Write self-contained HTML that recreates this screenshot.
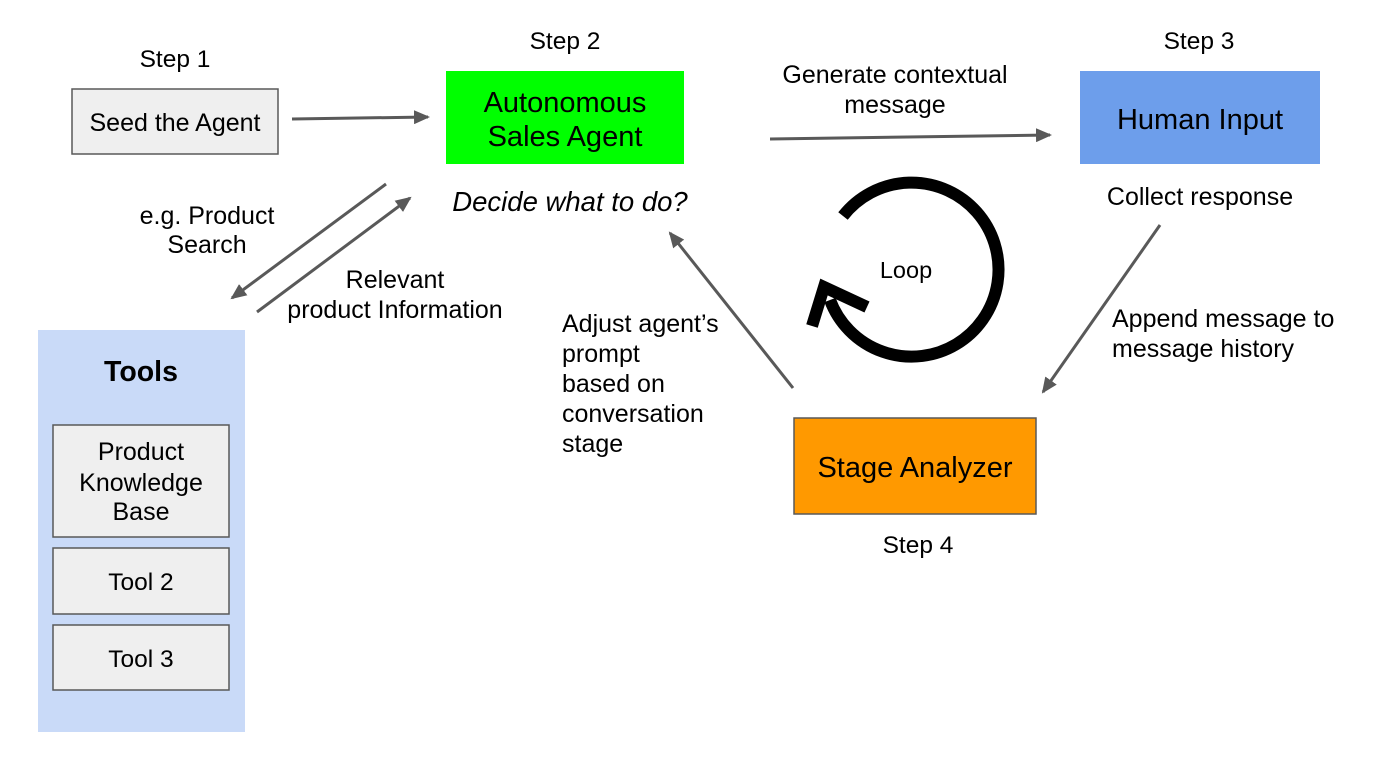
<!DOCTYPE html>
<html><head><meta charset="utf-8"><style>
html,body{margin:0;padding:0;background:#fff;}
svg{display:block;font-family:"Liberation Sans",Arial,sans-serif;}
</style></head><body>
<svg width="1400" height="757" viewBox="0 0 1400 757" xmlns="http://www.w3.org/2000/svg">
<defs>
<marker id="ah2" markerWidth="16" markerHeight="14" refX="14" refY="7" orient="auto" markerUnits="userSpaceOnUse">
<path d="M0,0 L16,7 L0,14 z" fill="#595959"/>
</marker>
</defs>
<g font-size="24.5" fill="#000">
<text x="175" y="67" text-anchor="middle">Step 1</text>
<text x="565" y="49" text-anchor="middle">Step 2</text>
<text x="1199" y="49" text-anchor="middle">Step 3</text>
<text x="918" y="553" text-anchor="middle">Step 4</text>
</g>
<rect x="72" y="89" width="206" height="65" fill="#efefef" stroke="#595959" stroke-width="1.5"/>
<text x="175" y="131" font-size="25" text-anchor="middle">Seed the Agent</text>
<rect x="446" y="71" width="238" height="93" fill="#00ff00"/>
<text x="565" y="112" font-size="29" text-anchor="middle">Autonomous</text>
<text x="565" y="146" font-size="29" text-anchor="middle">Sales Agent</text>
<text x="570" y="211" font-size="27.5" font-style="italic" text-anchor="middle">Decide what to do?</text>
<rect x="1080" y="71" width="240" height="93" fill="#6d9eeb"/>
<text x="1200" y="129" font-size="29" text-anchor="middle">Human Input</text>
<text x="1200" y="205" font-size="25" text-anchor="middle">Collect response</text>
<rect x="794" y="418" width="242" height="96" fill="#ff9900" stroke="#595959" stroke-width="1.5"/>
<text x="915" y="477" font-size="29" text-anchor="middle">Stage Analyzer</text>
<rect x="38" y="330" width="207" height="402" fill="#c9daf8"/>
<text x="141" y="381" font-size="28.5" font-weight="bold" text-anchor="middle">Tools</text>
<rect x="53" y="425" width="176" height="112" fill="#efefef" stroke="#595959" stroke-width="1.5"/>
<text x="141" y="460" font-size="25" text-anchor="middle">Product</text>
<text x="141" y="491" font-size="25" text-anchor="middle">Knowledge</text>
<text x="141" y="520" font-size="25" text-anchor="middle">Base</text>
<rect x="53" y="548" width="176" height="66" fill="#efefef" stroke="#595959" stroke-width="1.5"/>
<text x="141" y="590" font-size="24.5" text-anchor="middle">Tool 2</text>
<rect x="53" y="625" width="176" height="65" fill="#efefef" stroke="#595959" stroke-width="1.5"/>
<text x="141" y="667" font-size="24.5" text-anchor="middle">Tool 3</text>
<g stroke="#595959" stroke-width="3" fill="none">
<line x1="292" y1="119" x2="428" y2="117" marker-end="url(#ah2)"/>
<line x1="770" y1="139" x2="1050" y2="135" marker-end="url(#ah2)"/>
<line x1="386" y1="184" x2="232" y2="298" marker-end="url(#ah2)"/>
<line x1="257" y1="312" x2="410" y2="198" marker-end="url(#ah2)"/>
<line x1="1160" y1="225" x2="1043" y2="392" marker-end="url(#ah2)"/>
<line x1="793" y1="388" x2="670" y2="233" marker-end="url(#ah2)"/>
</g>
<g font-size="25" fill="#000">
<text x="207" y="224" text-anchor="middle">e.g. Product</text>
<text x="207" y="253" text-anchor="middle">Search</text>
<text x="395" y="288" text-anchor="middle">Relevant</text>
<text x="395" y="318" text-anchor="middle">product Information</text>
<text x="1112" y="327">Append message to</text>
<text x="1112" y="357">message history</text>
<text x="562" y="332">Adjust agent’s</text>
<text x="562" y="362">prompt</text>
<text x="562" y="392">based on</text>
<text x="562" y="422">conversation</text>
<text x="562" y="452">stage</text>
<text x="895" y="83" text-anchor="middle">Generate contextual</text>
<text x="895" y="113" text-anchor="middle">message</text>
</g>
<path d="M843,216 A87,87 0 1 1 830,300" stroke="#000" stroke-width="12" fill="none"/>
<polyline points="812,326 824,287 867,307" stroke="#000" stroke-width="12" fill="none"/>
<text x="906" y="278" font-size="23.5" text-anchor="middle">Loop</text>
</svg>
</body></html>
